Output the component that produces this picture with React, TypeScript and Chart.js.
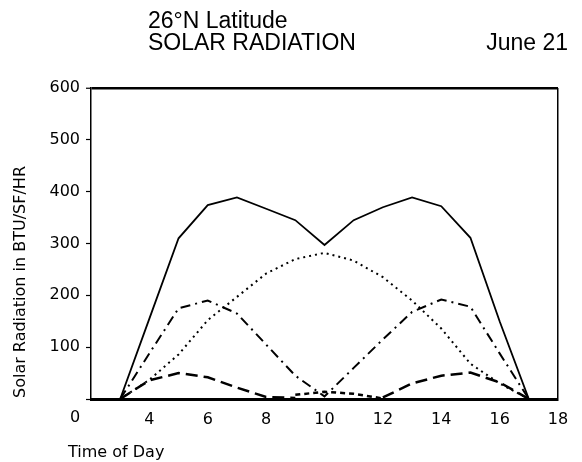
import React, { useEffect, useRef } from "react";
import { Chart, registerables } from "chart.js";

Chart.register(...registerables);

// ---- text ----
const TITLE_LINE1 = "26°N Latitude";
const TITLE_LINE2 = "SOLAR RADIATION";
const DATE_LABEL = "June 21";
const X_TITLE = "Time of Day";
const Y_TITLE = "Solar Radiation in BTU/SF/HR";
const ORIGIN_LABEL = "0";

// ---- axes ----
const X_MIN = 2;
const X_MAX = 18;
const X_STEP = 2;
const Y_MIN = 0;
const Y_MAX = 600;
const Y_STEP = 100;

// ---- data ----
const hours = [3, 4, 5, 6, 7, 8, 9, 10, 11, 12, 13, 14, 15, 16, 17];
const solidValues = [0, 155, 310, 374, 389, 367, 345, 297, 345, 370, 389, 372, 311, 150, 0];
const dottedValues = [0, 37, 86, 152, 197, 242, 270, 282, 267, 235, 190, 136, 68, 30, 0];
const dashDotValues = [0, 88, 175, 190, 165, 105, 45, 5, 60, 115, 168, 192, 178, 88, 0];

const longDashHours = [3, 4, 5, 6, 7, 8, 9, 10, 12, 13, 14, 15, 16, 17];
const longDashValues = [0, 36, 50, 42, 22, 4, 2, null, 3, 30, 45, 51, 32, 0];

const shortDashHours = [9, 10, 11, 12];
const shortDashValues = [8, 14, 10, 1];

const pts = (xs: number[], ys: (number | null)[]) => xs.map((x, i) => ({ x, y: ys[i] }));

const TICK_FONT = { family: "'DejaVu Sans', sans-serif", size: 16 };

const textPlugin = {
  id: "textPlugin",
  afterDraw(chart: any) {
    const ctx = chart.ctx as CanvasRenderingContext2D;
    const xs = chart.scales.x;
    ctx.save();
    ctx.fillStyle = "#000";
    ctx.font = "23px 'Liberation Sans', Arial, sans-serif";
    ctx.textBaseline = "alphabetic";
    ctx.textAlign = "left";
    ctx.fillText(TITLE_LINE1, 148, 28);
    ctx.fillText(TITLE_LINE2, 148, 50);
    ctx.textAlign = "right";
    ctx.fillText(DATE_LABEL, 568, 50);

    ctx.font = "16px 'DejaVu Sans', sans-serif";
    ctx.textAlign = "left";
    ctx.fillText(X_TITLE, 68, 457);

    ctx.textAlign = "center";
    ctx.textBaseline = "middle";
    ctx.fillText(ORIGIN_LABEL, xs.getPixelForValue(X_MIN) - 16, 418);

    ctx.translate(25, 282);
    ctx.rotate(-Math.PI / 2);
    ctx.textAlign = "center";
    ctx.textBaseline = "alphabetic";
    ctx.fillText(Y_TITLE, 0, 0);
    ctx.restore();
  },
};

export default function App() {
  const ref = useRef<HTMLCanvasElement>(null);

  useEffect(() => {
    const canvas = ref.current!;
    const common = {
      borderColor: "#000",
      pointRadius: 0,
      fill: false,
      tension: 0,
      spanGaps: false,
    };
    const chart = new Chart(canvas, {
      type: "line",
      data: {
        datasets: [
          { ...common, label: "solid", data: pts(hours, solidValues), borderWidth: 1.8 },
          { ...common, label: "dotted", data: pts(hours, dottedValues), borderWidth: 2, borderDash: [2, 4] },
          { ...common, label: "dashdot", data: pts(hours, dashDotValues), borderWidth: 2, borderDash: [10, 5, 2, 5] },
          { ...common, label: "longdash", data: pts(longDashHours, longDashValues), borderWidth: 2.5, borderDash: [12, 6] },
          { ...common, label: "shortdash", data: pts(shortDashHours, shortDashValues), borderWidth: 2.5, borderDash: [5, 4] },
        ],
      },
      options: {
        animation: false,
        responsive: false,
        maintainAspectRatio: false,
        layout: { padding: { top: 88, right: 24, left: 0, bottom: 0 } },
        plugins: { legend: { display: false }, tooltip: { enabled: false }, title: { display: false } },
        scales: {
          x: {
            type: "linear",
            min: X_MIN,
            max: X_MAX,
            afterFit: (s: any) => { s.height = 63; },
            ticks: {
              stepSize: X_STEP,
              color: "#000",
              font: TICK_FONT,
              padding: 11,
              maxRotation: 0,
              callback: (v: any) => (v === X_MIN ? "" : String(v)),
            },
            grid: {
              drawTicks: false,
              color: (c: any) => (c.tick && c.tick.value === X_MAX ? "#000" : "rgba(0,0,0,0)"),
              lineWidth: 1.5,
            },
            border: { display: true, color: "#000", width: 3 },
          },
          y: {
            type: "linear",
            min: Y_MIN,
            max: Y_MAX,
            afterFit: (s: any) => { s.width = 91; },
            ticks: {
              stepSize: Y_STEP,
              color: "#000",
              font: TICK_FONT,
              padding: 6,
              callback: (v: any) => (v === Y_MIN ? "" : String(v)),
            },
            grid: {
              drawTicks: true,
              tickLength: 5,
              tickColor: "#000",
              tickWidth: 1.2,
              color: (c: any) => (c.tick && c.tick.value === Y_MAX ? "#000" : "rgba(0,0,0,0)"),
              lineWidth: (c: any) => (c.tick && c.tick.value === Y_MAX ? 2.5 : 1),
            },
            border: { display: true, color: "#000", width: 1.5 },
          },
        },
      },
      plugins: [textPlugin],
    });
    return () => chart.destroy();
  }, []);

  return (
    <div style={{ position: "fixed", left: 0, top: 0, width: 582, height: 462, background: "#fff" }}>
      <canvas ref={ref} width={582} height={462} style={{ width: 582, height: 462, display: "block" }} />
    </div>
  );
}
